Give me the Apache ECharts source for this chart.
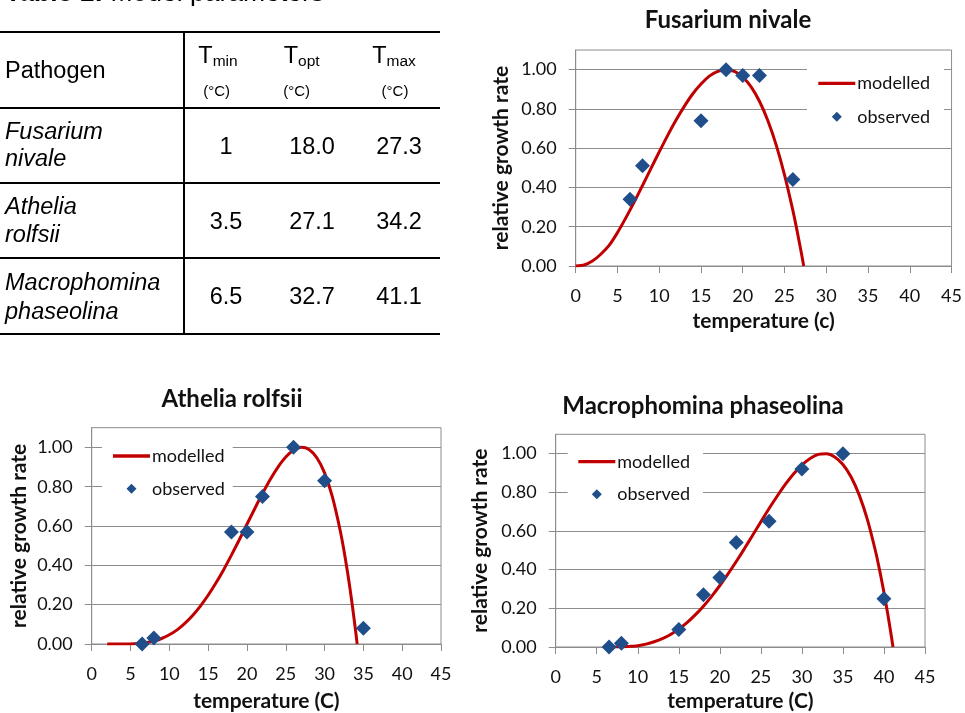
<!DOCTYPE html>
<html><head><meta charset="utf-8">
<script src="https://cdn.jsdelivr.net/npm/echarts@6/dist/echarts.min.js"></script>
<style>
html,body{margin:0;padding:0;background:#fff;width:965px;height:713px;overflow:hidden;}
#chart{position:absolute;left:0;top:0;width:965px;height:713px;}
#tbl{position:absolute;left:0;top:0;width:460px;height:340px;font-family:"Liberation Sans",Arial,sans-serif;color:#000;font-size:23.5px;}
.t{position:absolute;white-space:nowrap;line-height:1;transform:translate(-50%,-50%);}
.tl{position:absolute;white-space:nowrap;line-height:1;transform:translate(0,-50%);}
.ln{position:absolute;background:#000;}
</style></head><body>
<div id="chart"></div><div id="tbl"></div>
<script>
// ---------- table data ----------
const tableCaptionBold = 'Table 1:';
const tableCaptionRest = ' Model parameters';
const headerFirst = 'Pathogen';
const paramSubs = ['min', 'opt', 'max'];
const paramUnit = '(°C)';
const pathogenNames = [['Fusarium', 'nivale'], ['Athelia', 'rolfsii'], ['Macrophomina', 'phaseolina']];
const tMin = ['1', '3.5', '6.5'];
const tOpt = ['18.0', '27.1', '32.7'];
const tMax = ['27.3', '34.2', '41.1'];

// ---------- chart data ----------
const xTicks = [0, 5, 10, 15, 20, 25, 30, 35, 40, 45];
const yTicks = [0, 0.2, 0.4, 0.6, 0.8, 1.0];
const chartTitles = ['Fusarium nivale', 'Athelia rolfsii', 'Macrophomina phaseolina'];
const xAxisTitles = ['temperature (c)', 'temperature (C)', 'temperature (C)'];
const yAxisTitle = 'relative growth rate';
const seriesNames = ['modelled', 'observed'];

const fusModT = [0, 1, 2, 3, 4, 5, 6, 7, 8, 9, 10, 11, 12, 13, 14, 15, 16, 17, 18, 19, 20, 21, 22, 23, 24, 25, 26, 26.5, 27, 27.3];
const fusModR = [0, 0.005, 0.025, 0.06, 0.105, 0.17, 0.245, 0.325, 0.41, 0.496, 0.581, 0.664, 0.742, 0.813, 0.876, 0.927, 0.967, 0.991, 1.0, 0.991, 0.962, 0.912, 0.839, 0.741, 0.617, 0.464, 0.283, 0.18, 0.07, 0];
const fusObsT = [6.5, 8, 15, 18, 20, 22, 26];
const fusObsR = [0.34, 0.51, 0.74, 1.00, 0.97, 0.97, 0.44];

const athModT = [2, 3, 3.5, 5, 6, 7, 8, 9, 10, 11, 12, 13, 14, 15, 16, 17, 18, 19, 20, 21, 22, 23, 24, 25, 26, 27, 28, 29, 30, 31, 32, 32.5, 33, 33.5, 34, 34.2];
const athModR = [0, 0, 0, 0, 0.002, 0.007, 0.015, 0.028, 0.047, 0.072, 0.105, 0.145, 0.193, 0.248, 0.31, 0.378, 0.452, 0.529, 0.609, 0.688, 0.765, 0.837, 0.9, 0.951, 0.985, 1.0, 0.989, 0.947, 0.87, 0.749, 0.58, 0.475, 0.355, 0.219, 0.066, 0];
const athObsT = [6.5, 8, 18, 20, 22, 26, 30, 35];
const athObsR = [0, 0.03, 0.57, 0.57, 0.75, 1.00, 0.83, 0.08];

const macModT = [7, 8, 9, 10, 11, 12, 13, 14, 15, 16, 17, 18, 19, 20, 21, 22, 23, 24, 25, 26, 27, 28, 29, 30, 31, 32, 33, 34, 35, 36, 37, 38, 39, 39.5, 40, 40.5, 40.8, 41.1];
const macModR = [0, 0, 0.003, 0.007, 0.015, 0.027, 0.043, 0.065, 0.093, 0.126, 0.166, 0.211, 0.262, 0.318, 0.378, 0.442, 0.509, 0.578, 0.647, 0.716, 0.781, 0.842, 0.896, 0.941, 0.975, 0.996, 0.999, 0.983, 0.944, 0.879, 0.784, 0.656, 0.49, 0.391, 0.282, 0.161, 0.083, 0];
const macObsT = [6.5, 8, 15, 18, 20, 22, 26, 30, 35, 40];
const macObsR = [0, 0.02, 0.09, 0.27, 0.36, 0.54, 0.65, 0.92, 1.00, 0.25];

// ---------- build table ----------
const tbl = document.getElementById('tbl');
function add(cls, x, y, html, extra) {
  const d = document.createElement('div');
  d.className = cls; d.style.left = x + 'px'; d.style.top = y + 'px';
  d.innerHTML = html; if (extra) Object.assign(d.style, extra);
  tbl.appendChild(d); return d;
}
function line(x, y, w, h) {
  const d = document.createElement('div'); d.className = 'ln';
  Object.assign(d.style, {left: x + 'px', top: y + 'px', width: w + 'px', height: h + 'px'});
  tbl.appendChild(d);
}
add('tl', 5, -8, '<b>' + tableCaptionBold + '</b>' + tableCaptionRest, {fontSize: '26.5px'});
[32.3, 107.7, 182.7, 258.3, 334.3].forEach(y => line(0, y - 1, 440, 2));
line(182.7, 31.3, 2, 304);
add('tl', 5, 71, headerFirst);
const colX = [218, 301.7, 394];
const unitX = [216.7, 296.7, 395];
const valX = [226, 312, 399];
paramSubs.forEach((s, i) => {
  add('t', colX[i], 56, 'T<span style="font-size:15.5px;position:relative;top:3px">' + s + '</span>');
  add('t', unitX[i], 90, paramUnit, {fontSize: '15px'});
});
const rowY = [146.7, 221.7, 296.7];
const nameY = [[131.7, 159.3], [206.7, 235], [283.3, 311.7]];
pathogenNames.forEach((n, r) => {
  add('tl', 5, nameY[r][0], '<i>' + n[0] + '</i>');
  add('tl', 5, nameY[r][1], '<i>' + n[1] + '</i>');
  [tMin, tOpt, tMax].forEach((col, c) => add('t', valX[c], rowY[r], col[r]));
});

// ---------- chart ----------
const pair = (xs, ys) => xs.map((x, i) => [x, ys[i]]);
const panels = [
  {grid: {left: 575.7, top: 50, width: 377, height: 216}, title: [728, 8],
   legend: {left: 807, top: 60.3, itemGap: 13.4, padding: [13, 14, 7, 11.3]}, yGap: 64, xGap: 45,
   mod: pair(fusModT, fusModR), obs: pair(fusObsT, fusObsR)},
  {grid: {left: 91.7, top: 427.7, width: 349.3, height: 216.6}, title: [232, 387],
   legend: {left: 102, top: 436, itemGap: 12.7, padding: [10, 8, 8, 11]}, yGap: 62, xGap: 47,
   mod: pair(athModT, athModR), obs: pair(athObsT, athObsR)},
  {grid: {left: 555.7, top: 434.3, width: 369.3, height: 213}, title: [703, 394],
   legend: {left: 567.7, top: 441.7, itemGap: 12.6, padding: [10, 13, 8, 10.6]}, yGap: 65, xGap: 44,
   mod: pair(macModT, macModR), obs: pair(macObsT, macObsR)}
];
const FONT = 'Lato';
const TXT = '#111';
const GRIDC = '#8c8c8c';
const RED = '#C00000';
const BLUE = '#1F4E8A';
const diamondPath = 'path://M0,-1L1,0L0,1L-1,0Z';
const linePath = 'path://M0,0L36,0L36,3.2L0,3.2Z';

const option = {
  animation: false,
  backgroundColor: 'transparent',
  textStyle: {fontFamily: FONT},
  title: panels.map((p, i) => ({
    text: chartTitles[i], left: p.title[0], top: p.title[1], textAlign: 'center', padding: 0,
    textStyle: {fontFamily: FONT, fontSize: 24, fontWeight: 'bold', color: TXT}
  })),
  legend: panels.map((p, i) => ({
    left: p.legend.left, top: p.legend.top, padding: p.legend.padding, orient: 'vertical',
    backgroundColor: '#fff', itemWidth: 37, itemHeight: 10, itemGap: p.legend.itemGap,
    selectedMode: false,
    textStyle: {fontFamily: FONT, fontSize: 18, color: TXT, lineHeight: 20, padding: [0, 0, 0, -3]},
    data: [{name: seriesNames[0], icon: linePath, itemStyle: {color: RED}},
           {name: seriesNames[1], icon: diamondPath, itemStyle: {color: BLUE, opacity: 1}}]
  })),
  grid: panels.map(p => Object.assign({show: true, borderColor: GRIDC, borderWidth: 1, backgroundColor: 'transparent'}, p.grid)),
  xAxis: panels.map((p, i) => ({
    type: 'value', gridIndex: i, min: xTicks[0], max: xTicks[xTicks.length - 1], interval: 5,
    name: xAxisTitles[i], nameLocation: 'middle', nameGap: p.xGap,
    nameTextStyle: {fontFamily: FONT, fontSize: 21, fontWeight: 'bold', color: TXT},
    axisLine: {show: true, lineStyle: {color: GRIDC, width: 1}},
    axisTick: {show: true, length: 7, inside: false, lineStyle: {color: GRIDC}},
    axisLabel: {fontFamily: FONT, fontSize: 18, color: TXT, margin: 21},
    splitLine: {show: false}
  })),
  yAxis: panels.map((p, i) => ({
    type: 'value', gridIndex: i, min: 0, max: 1.1, interval: 0.2,
    name: yAxisTitle, nameLocation: 'middle', nameGap: p.yGap, nameRotate: 90,
    nameTextStyle: {fontFamily: FONT, fontSize: 21, fontWeight: 'bold', color: TXT},
    axisLine: {show: true, lineStyle: {color: GRIDC, width: 1}},
    axisTick: {show: true, length: 7, customValues: yTicks, lineStyle: {color: GRIDC}},
    axisLabel: {fontFamily: FONT, fontSize: 18, color: TXT, margin: 19, customValues: yTicks,
      formatter: v => v.toFixed(2)},
    splitLine: {show: true, lineStyle: {color: GRIDC, width: 1}}
  })),
  series: panels.flatMap((p, i) => [
    {name: seriesNames[0], type: 'line', xAxisIndex: i, yAxisIndex: i, data: p.mod, smooth: 0.25,
     showSymbol: false, symbol: 'none', lineStyle: {color: RED, width: 3}, itemStyle: {color: RED}, z: 3},
    {name: seriesNames[1], type: 'scatter', xAxisIndex: i, yAxisIndex: i, data: p.obs,
     symbol: 'diamond', symbolSize: 15, itemStyle: {color: BLUE, opacity: 1}, z: 4}
  ])
};
const chart = echarts.init(document.getElementById('chart'), null, {renderer: 'canvas'});
chart.setOption(option);
</script>
</body></html>
